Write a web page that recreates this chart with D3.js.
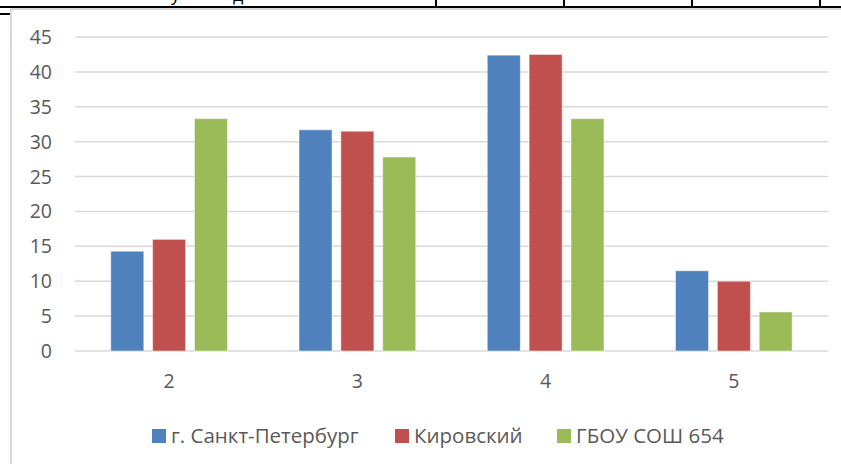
<!DOCTYPE html>
<html>
<head>
<meta charset="utf-8">
<script src="https://cdn.jsdelivr.net/npm/d3@7"></script>
<style>
  html, body { margin: 0; padding: 0; background: #fff; }
  svg { display: block; font-family: "Open Sans", sans-serif; }
</style>
</head>
<body>
<div id="chart"></div>
<script>
// Data
const categories = ['2', '3', '4', '5'];
const seriesNames = ['г. Санкт-Петербург', 'Кировский', 'ГБОУ СОШ 654'];
const spbValues = [14.3, 31.7, 42.4, 11.5];
const kirovValues = [16.0, 31.5, 42.5, 10.0];
const schoolValues = [33.3, 27.8, 33.3, 5.6];
const yTicks = [0, 5, 10, 15, 20, 25, 30, 35, 40, 45];
const colors = ['#4F81BD', '#C0504D', '#9BBB59'];

const seriesValues = [spbValues, kirovValues, schoolValues];

const width = 841;
const height = 464;

const svg = d3.select('#chart')
  .append('svg')
  .attr('width', width)
  .attr('height', height);

// bits of the surrounding document table above the chart
const clip = svg.append('clipPath').attr('id', 'topclip');
clip.append('rect').attr('x', 0).attr('y', 0).attr('width', width).attr('height', 7);
const topText = svg.append('g').attr('clip-path', 'url(#topclip)');
topText.append('text').attr('x', 171).attr('y', 1).style('font-size', '18px').text('у');
topText.append('text').attr('x', 233).attr('y', 1).style('font-size', '18px').text('д');

svg.append('line')
  .attr('x1', 0).attr('x2', width)
  .attr('y1', 7).attr('y2', 7)
  .attr('stroke', '#000').attr('stroke-width', 2);
[436, 564, 692, 820].forEach(x => {
  svg.append('line')
    .attr('x1', x).attr('x2', x)
    .attr('y1', 0).attr('y2', 7)
    .attr('stroke', '#000').attr('stroke-width', 2);
});
svg.append('line')
  .attr('x1', 0).attr('x2', 10)
  .attr('y1', 14).attr('y2', 14)
  .attr('stroke', '#000').attr('stroke-width', 2);

// chart area frame (left + top only visible)
svg.append('path')
  .attr('d', `M11,${height} L11,9 L${width},9`)
  .attr('fill', 'none')
  .attr('stroke', '#D9D9D9')
  .attr('stroke-width', 2);

const x0 = d3.scaleBand()
  .domain(categories)
  .range([75, 828])
  .paddingInner(0.38)
  .paddingOuter(0.19);

const x1 = d3.scaleBand()
  .domain(seriesNames)
  .range([0, x0.bandwidth()])
  .paddingInner(0.21);

const y = d3.scaleLinear()
  .domain([0, 45])
  .range([351, 37]);

// gridlines
svg.append('g')
  .selectAll('line')
  .data(yTicks)
  .join('line')
  .attr('x1', 75)
  .attr('x2', 828)
  .attr('y1', d => y(d))
  .attr('y2', d => y(d))
  .attr('stroke', '#D9D9D9')
  .attr('stroke-width', 1.5);

// y tick labels
svg.append('g')
  .selectAll('text')
  .data(yTicks)
  .join('text')
  .attr('x', 52)
  .attr('y', d => y(d))
  .attr('dy', '0.36em')
  .attr('text-anchor', 'end')
  .style('font-size', '19.5px')
  .style('fill', '#595959')
  .text(d => d);

// bars
const groups = svg.append('g')
  .selectAll('g')
  .data(categories)
  .join('g')
  .attr('transform', d => `translate(${x0(d)},0)`);

groups.selectAll('rect')
  .data((d, i) => seriesNames.map((s, j) => ({ s, j, v: seriesValues[j][i] })))
  .join('rect')
  .attr('x', d => x1(d.s))
  .attr('y', d => y(d.v))
  .attr('width', x1.bandwidth())
  .attr('height', d => y(0) - y(d.v))
  .attr('fill', d => colors[d.j])
  .attr('stroke', '#fff')
  .attr('stroke-opacity', 0.5)
  .attr('stroke-width', 1);

// x labels
svg.append('g')
  .selectAll('text')
  .data(categories)
  .join('text')
  .attr('x', d => x0(d) + x0.bandwidth() / 2)
  .attr('y', 381)
  .attr('dy', '0.36em')
  .attr('text-anchor', 'middle')
  .style('font-size', '19.5px')
  .style('fill', '#595959')
  .text(d => d);

// legend
const legendX = [152, 395, 557];
const legend = svg.append('g');
seriesNames.forEach((name, i) => {
  const row = legend.append('g')
    .attr('transform', `translate(${legendX[i]},436)`);
  row.append('rect')
    .attr('x', 0)
    .attr('y', -7)
    .attr('width', 14)
    .attr('height', 14)
    .attr('fill', colors[i]);
  row.append('text')
    .attr('x', 19)
    .attr('y', 0)
    .attr('dy', '0.36em')
    .style('font-size', '20.5px')
    .style('fill', '#595959')
    .text(name);
});
</script>
</body>
</html>
